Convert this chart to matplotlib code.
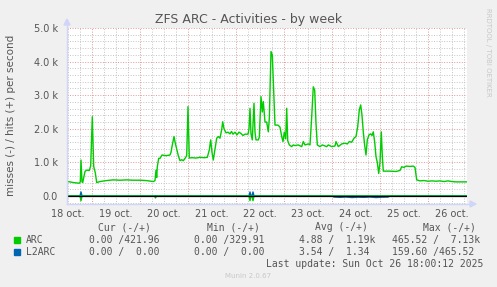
import matplotlib
matplotlib.use("Agg")
import matplotlib.pyplot as plt
from matplotlib.patches import Polygon
from matplotlib.lines import Line2D
import numpy as np

# ---------------- data (hours since 18 oct 00:00, values per second) ----------------
title = "ZFS ARC - Activities - by week"
ylabel = "misses (-) / hits (+) per second"
day_labels = ["18 oct.", "19 oct.", "20 oct.", "21 oct.", "22 oct.",
              "23 oct.", "24 oct.", "25 oct.", "26 oct."]

arc_hits_h = [11.5, 13, 14.65, 17.65, 18.15, 18.5, 19, 19.35, 20.5, 21.35, 22.65, 23.35,
              24.15, 24.85, 25.65, 26.35, 28, 31.35, 34.65, 38, 41.35, 44.5, 48, 51,
              54.65, 55.5, 56, 56.35, 56.65, 57.35, 58, 59, 61, 63, 63.5, 64, 65, 65.65,
              66.35, 67.15, 68, 68.85, 69.65, 70.5, 71.35, 72, 72.65, 74, 76, 78, 80,
              81.65, 82.65, 83.35, 84, 84.65, 85.5, 86.35, 87.15, 88, 88.85, 89.35, 90,
              91, 92, 93, 93.75, 94.5, 95.5, 96.5, 97.5, 98.5, 99.5, 100.5, 102, 102.5,
              103, 103.5, 104.15, 105, 105.5, 106, 107.15, 107.65, 108.5, 109.15, 109.65,
              110.5, 111.35, 112.15, 112.65, 113.5, 114.15, 114.85, 115.5, 117, 118,
              118.85, 119.5, 120.15, 120.85, 121.35, 121.85, 122.65, 123.85, 124.65,
              125.5, 127.15, 128.85, 129.65, 130.5, 132.15, 133, 133.85, 134.65, 135.35,
              136, 136.65, 138, 139.15, 140.5, 141.35, 142.15, 143.85, 145.5, 146,
              147.15, 148.85, 150.5, 151.65, 152.65, 153.85, 155, 156, 156.85, 157.65,
              158.35, 159, 159.65, 160.35, 161, 161.65, 162.5, 163.35, 164, 164.65,
              165.35, 166, 166.65, 167.35, 168, 168.65, 169.15, 169.65, 173, 176, 178,
              178.85, 180, 181, 183, 184.65, 185.5, 186.35, 188, 190, 192, 194, 196,
              198, 200, 202, 204, 206, 208, 210, 211.5]
arc_hits_v = [430, 420, 400, 380, 420, 1070, 420, 400, 730, 770, 760, 900,
              2360, 880, 690, 400, 430, 460, 480, 470, 480, 470, 470, 460,
              430, 460, 770, 550, 870, 1120, 1120, 1220, 1200, 1220, 1300, 1470, 1770, 1570,
              1400, 1200, 1050, 1080, 1050, 1120, 1200, 2660, 1130, 1140, 1130, 1150, 1140,
              1150, 1370, 1670, 1300, 1070, 1400, 1720, 1770, 1720, 1980, 2210, 2000,
              1880, 1900, 1850, 1920, 1840, 1900, 1820, 1900, 1860, 1800, 1840, 1840, 2000,
              2610, 1850, 1670, 2760, 1900, 1670, 1670, 1750, 2960, 2500, 2810,
              2200, 2200, 1910, 2300, 4300, 4200, 3100, 2110, 2110, 2050,
              1770, 1620, 1900, 1700, 2610, 1650, 1520, 1470, 1520,
              1500, 1520, 1470, 1620, 1520, 1550, 1520, 2360, 3250, 3150,
              2160, 1520, 1470, 1520, 1490, 1470, 1520, 1470, 1490, 1620,
              1470, 1550, 1570, 1550, 1620, 1600, 1720, 1770, 2060, 2560,
              2710, 2400, 1900, 1500, 1220, 1670, 1820, 1850, 1800, 1910,
              1600, 1170, 1000, 670, 1000, 1910, 1200, 740, 740, 730, 760,
              870, 850, 890, 880, 890, 850, 480, 450, 460, 440, 450, 440,
              450, 430, 450, 430, 420, 420, 420, 420]

arc_miss_h = [11.5, 18, 18.5, 19, 55.25, 55.75, 56.25, 102.5, 103, 103.5, 104, 104.5, 105, 211.5]
arc_miss_v = [0, 0, -140, 0, 0, -60, 0, 0, -140, 0, 0, -140, 0, 0]

l2_hits_h = [11.5, 18, 18.5, 19, 102.5, 103, 103.5, 104, 104.5, 105, 211.5]
l2_hits_v = [0, 0, 120, 0, 0, 120, 0, 0, 120, 0, 0]

l2_miss_h = [11.5, 18, 18.5, 19, 102.5, 103, 103.5, 104, 104.5, 105, 144, 145, 148, 151,
             154, 157, 160, 163, 166, 169, 172, 173, 211.5]
l2_miss_v = [0, 0, -60, 0, 0, -60, 0, 0, -60, 0, 0, -30, -40, -30,
             -45, -35, -40, -30, -45, -35, -30, 0, 0]

legend_header = ["Cur (-/+)", "Min (-/+)", "Avg (-/+)", "Max (-/+)"]
arc_stats = ["0.00 /421.96", "0.00 /329.91", "4.88 /  1.19k", "465.52 /  7.13k"]
l2_stats = ["0.00 /  0.00", "0.00 /  0.00", "3.54 /  1.34", "159.60 /465.52"]
last_update = "Last update: Sun Oct 26 18:00:12 2025"
version = "Munin 2.0.67"

# ---------------- styling ----------------
W, H = 497, 287
BG = "#f0f0f0"
FONT = "#555555"
ARC_C = "#00cc00"
L2_C = "#0066b3"
AXIS_C = "#cfd6f8"
MGRID = "#dd9a9a"
GRID = "#c4c4c4"

fig = plt.figure(figsize=(W / 100, H / 100), dpi=100, facecolor=BG)

def fx(x):
    return x / W

def fy(y):
    return 1 - y / H

L, R, T, B = 67, 467, 28, 204
ax = fig.add_axes([fx(L), fy(B), (R - L) / W, (B - T) / H])
ax.set_facecolor("white")
for s in ax.spines.values():
    s.set_visible(False)

x0, x1 = 11.5, 211.5
ymin, ymax = -238, 5000
ax.set_xlim(x0, x1)
ax.set_ylim(ymin, ymax)

# grid
dots = (0, (1, 1.6))
for gx in np.arange(12, x1, 6):
    if gx % 24 != 0:
        ax.axvline(gx, color=GRID, lw=0.7, ls=dots, zorder=1)
for gx in np.arange(24, x1, 24):
    ax.axvline(gx, color=MGRID, lw=0.7, ls=dots, zorder=1.1)
for gy in np.arange(-200, ymax + 1, 200):
    if gy % 1000 != 0:
        ax.axhline(gy, color=GRID, lw=0.7, ls=dots, zorder=1)
for gy in np.arange(1000, ymax + 1, 1000):
    ax.axhline(gy, color=MGRID, lw=0.7, ls=dots, zorder=1.1)

# data
ax.plot(arc_hits_h, arc_hits_v, color=ARC_C, lw=1.0, zorder=3)
ax.plot(l2_hits_h, l2_hits_v, color=L2_C, lw=1.0, zorder=3.2)
ax.plot(l2_miss_h, l2_miss_v, color=L2_C, lw=1.0, zorder=3.2)
ax.plot(arc_miss_h, arc_miss_v, color=ARC_C, lw=1.0, zorder=3.3)
ax.axhline(0, color="black", lw=0.9, zorder=3.5)

# ticks
ax.set_xticks([12 + 24 * i for i in range(len(day_labels))])
ax.set_xticklabels(day_labels)
yt = [0, 1000, 2000, 3000, 4000, 5000]
ax.set_yticks(yt)
ax.set_yticklabels(["0.0"] + ["%.1f k" % (v / 1000) for v in yt[1:]])
ax.tick_params(length=0, labelsize=7, colors=FONT)
ax.tick_params(axis="y", pad=6.5)
ax.tick_params(axis="x", pad=3.5)

# axes lines with arrows
fig.add_artist(Line2D([fx(L), fx(L)], [fy(B), fy(T - 4)], color=AXIS_C, lw=1.0))
fig.add_artist(Line2D([fx(L), fx(R + 4)], [fy(B), fy(B)], color=AXIS_C, lw=1.0))
fig.add_artist(Polygon([[fx(L - 3), fy(T - 3)], [fx(L + 3), fy(T - 3)], [fx(L), fy(T - 9)]],
                       closed=True, color=AXIS_C, transform=fig.transFigure))
fig.add_artist(Polygon([[fx(R + 3), fy(B - 3)], [fx(R + 3), fy(B + 3)], [fx(R + 9), fy(B)]],
                       closed=True, color=AXIS_C, transform=fig.transFigure))

# texts
fig.text(fx(248.5), fy(19), title, ha="center", va="center", fontsize=9, color=FONT)
fig.text(fx(11.5), fy(115), ylabel, ha="center", va="center", rotation=90,
         fontsize=7.5, color=FONT)
fig.text(fx(488), fy(52), "RRDTOOL / TOBI OETIKER", ha="center", va="center",
         rotation=270, fontsize=5, color="#c8c8c8")

mono = "DejaVu Sans Mono"
hx = [98, 207, 315, 423]
sx = [89, 194, 299, 392]
for t, x in zip(legend_header, hx):
    fig.text(fx(x), fy(227), t, ha="left", va="center", fontsize=7, family=mono, color=FONT)
for row_y, name, col, stats in [(240, "ARC", ARC_C, arc_stats), (252, "L2ARC", L2_C, l2_stats)]:
    fig.add_artist(Polygon([[fx(14), fy(row_y - 3)], [fx(20), fy(row_y - 3)],
                            [fx(20), fy(row_y + 3)], [fx(14), fy(row_y + 3)]],
                           closed=True, color=col, transform=fig.transFigure))
    fig.text(fx(26), fy(row_y), name, ha="left", va="center", fontsize=7, family=mono, color=FONT)
    for t, x in zip(stats, sx):
        fig.text(fx(x), fy(row_y), t, ha="left", va="center", fontsize=7, family=mono, color=FONT)
fig.text(fx(483), fy(264), last_update, ha="right", va="center", fontsize=7, family=mono, color=FONT)
fig.text(fx(248), fy(276), version, ha="center", va="center", fontsize=5, color="#c8c8c8")

fig.savefig("out.png", dpi=100, facecolor=BG)
